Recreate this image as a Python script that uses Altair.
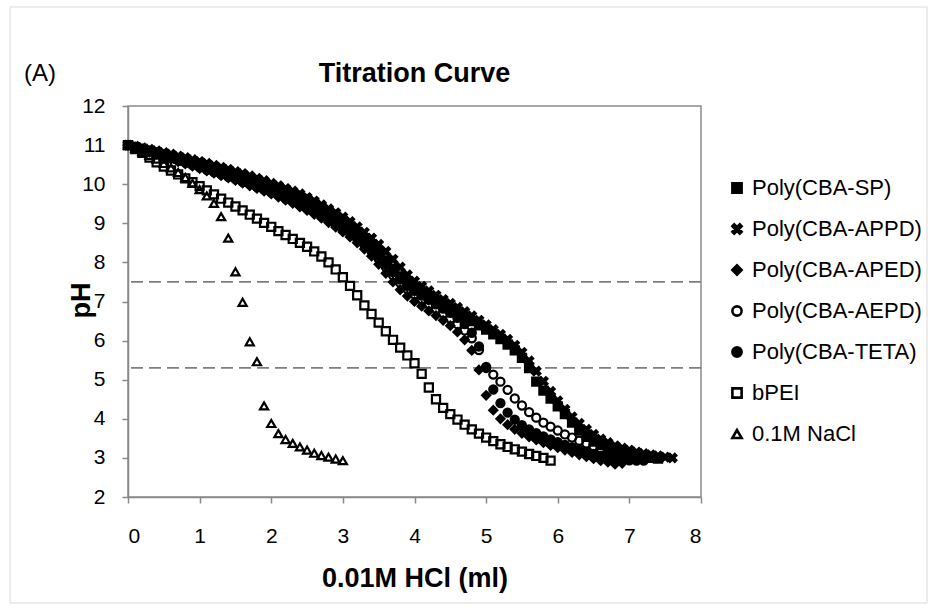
import altair as alt
import pandas as pd

# ---------------- data ----------------
volume_ml = [0.0, 0.1, 0.2, 0.3, 0.4, 0.5, 0.6, 0.7, 0.8, 0.9,
             1.0, 1.1, 1.2, 1.3, 1.4, 1.5, 1.6, 1.7, 1.8, 1.9,
             2.0, 2.1, 2.2, 2.3, 2.4, 2.5, 2.6, 2.7, 2.8, 2.9,
             3.0, 3.1, 3.2, 3.3, 3.4, 3.5, 3.6, 3.7, 3.8, 3.9,
             4.0, 4.1, 4.2, 4.3, 4.4, 4.5, 4.6, 4.7, 4.8, 4.9,
             5.0, 5.1, 5.2, 5.3, 5.4, 5.5, 5.6, 5.7, 5.8, 5.9,
             6.0, 6.1, 6.2, 6.3, 6.4, 6.5, 6.6, 6.7, 6.8, 6.9,
             7.0, 7.1, 7.2, 7.3, 7.4, 7.5, 7.6]

ph_sp = [11.0, 10.95, 10.9, 10.85, 10.8, 10.75, 10.7, 10.65, 10.6, 10.55,
         10.5, 10.45, 10.4, 10.34, 10.29, 10.23, 10.18, 10.12, 10.06, 10.0,
         9.94, 9.87, 9.8, 9.73, 9.65, 9.57, 9.48, 9.38, 9.28, 9.17,
         9.05, 8.92, 8.78, 8.62, 8.45, 8.26, 8.05, 7.84, 7.64, 7.47,
         7.33, 7.21, 7.1, 7.0, 6.9, 6.8, 6.7, 6.6, 6.5, 6.39,
         6.28, 6.16, 6.04, 5.9, 5.75, 5.56, 5.3, 4.95, 4.72, 4.52,
         4.32, 4.12, 3.9, 3.7, 3.54, 3.42, 3.33, 3.26, 3.2, 3.15,
         3.1, 3.06, 3.03, 3.0, 2.98]

ph_appd = [11.0, 10.97, 10.93, 10.89, 10.85, 10.81, 10.77, 10.72, 10.68, 10.63,
           10.58, 10.53, 10.48, 10.43, 10.38, 10.32, 10.27, 10.21, 10.15, 10.09,
           10.02, 9.96, 9.89, 9.82, 9.75, 9.66, 9.57, 9.47, 9.37, 9.27,
           9.16, 9.04, 8.91, 8.77, 8.62, 8.46, 8.28, 8.08, 7.88, 7.68,
           7.52, 7.39, 7.27, 7.16, 7.05, 6.95, 6.85, 6.74, 6.63, 6.52,
           6.4, 6.28, 6.16, 6.03, 5.88, 5.7, 5.48, 5.22, 4.96, 4.7,
           4.46, 4.24, 4.05, 3.88, 3.73, 3.6, 3.48, 3.39, 3.31, 3.25,
           3.2, 3.15, 3.11, 3.08, 3.05, 3.02, 3.0]

ph_aped = [11.0, 10.94, 10.88, 10.82, 10.76, 10.7, 10.64, 10.58, 10.52, 10.46,
           10.4, 10.34, 10.28, 10.22, 10.16, 10.1, 10.03, 9.96, 9.89, 9.82,
           9.75, 9.67, 9.59, 9.51, 9.42, 9.33, 9.23, 9.13, 9.02, 8.9,
           8.78, 8.65, 8.5, 8.34, 8.16, 7.95, 7.72, 7.5, 7.3, 7.14,
           7.0, 6.88, 6.76, 6.64, 6.52, 6.38, 6.22, 6.02, 5.75, 5.25,
           4.6, 4.22, 4.0, 3.85, 3.73, 3.63, 3.54, 3.46, 3.39, 3.32,
           3.26, 3.2, 3.14, 3.08, 3.03, 2.98, 2.93, 2.89, 2.84, 2.86]

ph_aepd = [11.0, 10.95, 10.89, 10.84, 10.78, 10.72, 10.67, 10.61, 10.55, 10.49,
           10.43, 10.37, 10.31, 10.25, 10.19, 10.13, 10.06, 10.0, 9.93, 9.86,
           9.79, 9.72, 9.64, 9.56, 9.48, 9.39, 9.3, 9.2, 9.1, 8.99,
           8.87, 8.74, 8.6, 8.45, 8.28, 8.09, 7.88, 7.67, 7.48, 7.32,
           7.18, 7.05, 6.93, 6.81, 6.69, 6.56, 6.42, 6.26, 6.06, 5.76,
           5.33, 5.13, 4.95, 4.74, 4.52, 4.34, 4.17, 4.03, 3.9, 3.8,
           3.7, 3.6, 3.52, 3.44, 3.37, 3.3, 3.24, 3.18, 3.13, 3.08,
           3.04, 3.0]

ph_teta = [11.0, 10.96, 10.91, 10.86, 10.81, 10.76, 10.71, 10.66, 10.61, 10.56,
           10.5, 10.44, 10.38, 10.32, 10.26, 10.2, 10.14, 10.07, 10.0, 9.93,
           9.86, 9.79, 9.71, 9.63, 9.55, 9.46, 9.37, 9.27, 9.17, 9.06,
           8.94, 8.81, 8.67, 8.52, 8.35, 8.16, 7.95, 7.75, 7.56, 7.4,
           7.27, 7.15, 7.04, 6.93, 6.82, 6.71, 6.58, 6.42, 6.2, 5.85,
           5.3, 4.75, 4.4, 4.16, 3.98, 3.84, 3.73, 3.63, 3.55, 3.47,
           3.4, 3.33, 3.27, 3.21, 3.15, 3.1, 3.05, 3.01, 2.97, 2.95,
           2.94, 2.93, 2.93]

ph_bpei = [11.0, 10.9, 10.8, 10.68, 10.56, 10.45, 10.35, 10.25, 10.15, 10.05,
           9.95, 9.84, 9.74, 9.63, 9.53, 9.43, 9.33, 9.22, 9.12, 9.01,
           8.91, 8.8, 8.7, 8.6, 8.5, 8.4, 8.28, 8.15, 8.0, 7.82,
           7.62, 7.4, 7.16, 6.9, 6.68, 6.46, 6.24, 6.02, 5.82, 5.62,
           5.42, 5.15, 4.8, 4.5, 4.28, 4.12, 3.98, 3.85, 3.73, 3.62,
           3.52, 3.43, 3.35, 3.28, 3.22, 3.16, 3.1, 3.05, 3.0, 2.93]

ph_nacl = [11.0, 10.92, 10.83, 10.74, 10.64, 10.53, 10.42, 10.3, 10.17, 10.02,
           9.86, 9.7, 9.51, 9.17, 8.62, 7.76, 6.98, 5.97, 5.46, 4.33,
           3.88, 3.62, 3.47, 3.37, 3.28, 3.2, 3.12, 3.06, 3.02, 2.97,
           2.93]

series_names = ["Poly(CBA-SP)", "Poly(CBA-APPD)", "Poly(CBA-APED)",
                "Poly(CBA-AEPD)", "Poly(CBA-TETA)", "bPEI", "0.1M NaCl"]
series_values = [ph_sp, ph_appd, ph_aped, ph_aepd, ph_teta, ph_bpei, ph_nacl]

reference_ph = [7.5, 5.3]
x_ticks = [0, 1, 2, 3, 4, 5, 6, 7, 8]
y_ticks = [2, 3, 4, 5, 6, 7, 8, 9, 10, 11, 12]
chart_title = "Titration Curve"
panel_label = "(A)"

rows = []
for k, (name, vals) in enumerate(zip(series_names, series_values)):
    for i, v in enumerate(vals):
        rows.append({"series": name, "ml": volume_ml[i], "pH": v, "k": k})
df = pd.DataFrame(rows)

# ---------------- styling ----------------
FONT = "Liberation Sans"
AXIS_GRAY = "#8a8a8a"
x_path = ("M-1,-0.6L-0.6,-1L0,-0.4L0.6,-1L1,-0.6L0.4,0L1,0.6L0.6,1"
          "L0,0.4L-0.6,1L-1,0.6L-0.4,0Z")
shapes = ["square", x_path, "diamond", "circle", "circle", "square", "triangle-up"]
fills = ["black", "black", "black", "transparent", "black", "transparent", "transparent"]
strokes = ["black"] * 7

x_scale = alt.Scale(domain=[0, 8], nice=False, zero=False)
y_scale = alt.Scale(domain=[2, 12], nice=False, zero=False)

y_axis = alt.Axis(values=y_ticks, title="pH", format="d",
                  labelPadding=17, labelOverlap=False,
                  titleX=-47, titleY=194,
                  titleBaseline="middle", titleAngle=-90)
x_axis = alt.Axis(values=x_ticks, title="0.01M HCl (ml)", format="d",
                  labelBaseline="middle", labelPadding=33,
                  labelOverlap=False,
                  titleX=286.5, titleY=81, titleBaseline="middle")

legend = alt.Legend(
    title=None, orient="none", legendX=598, legendY=71,
    labelFont=FONT, labelFontSize=22, labelColor="black", labelLimit=400,
    labelOffset=4, symbolSize=85, symbolStrokeWidth=2.6,
    rowPadding=19, padding=0,
)

points = alt.Chart(df).mark_point(
    filled=False, strokeWidth=2.2, size=66, opacity=1
).encode(
    x=alt.X("ml:Q", scale=x_scale, axis=x_axis),
    y=alt.Y("pH:Q", scale=y_scale, axis=y_axis),
    shape=alt.Shape("series:N", scale=alt.Scale(domain=series_names, range=shapes),
                    legend=legend),
    fill=alt.Fill("series:N", scale=alt.Scale(domain=series_names, range=fills),
                  legend=legend),
    stroke=alt.Stroke("series:N", scale=alt.Scale(domain=series_names, range=strokes),
                      legend=legend),
    order=alt.Order("k:Q"),
)

rules = alt.Chart(pd.DataFrame({"ref": reference_ph})).mark_rule(
    color="#7f7f7f", strokeWidth=1.8, strokeDash=[12, 6]
).encode(y=alt.Y("ref:Q", scale=y_scale, axis=y_axis))

frame = alt.Chart(pd.DataFrame({"f": [0]})).mark_rect(
    fill="transparent", stroke="#d9d9d9", strokeWidth=1
).encode(x=alt.value(-118), x2=alt.value(799), y=alt.value(-99), y2=alt.value(497))

label_a = alt.Chart(pd.DataFrame({"t": [panel_label]})).mark_text(
    font=FONT, fontSize=24, color="black", align="center", baseline="middle"
).encode(text="t:N", x=alt.value(-88), y=alt.value(-32))

title_text = alt.Chart(pd.DataFrame({"t": [chart_title]})).mark_text(
    font=FONT, fontSize=27, fontWeight="bold", color="black",
    align="center", baseline="middle"
).encode(text="t:N", x=alt.value(286.5), y=alt.value(-32))

chart = alt.layer(frame, rules, points, label_a, title_text).properties(
    width=573, height=391,
    padding={"left": 128, "top": 106, "right": 237, "bottom": 113},
    autosize=alt.AutoSizeParams(type="none"),
    background="white",
).configure_view(
    stroke=AXIS_GRAY, strokeWidth=1.5
).configure_axis(
    grid=False, domainColor=AXIS_GRAY, domainWidth=1.5, tickColor=AXIS_GRAY,
    tickWidth=1.5, tickSize=6, labelFont=FONT, labelFontSize=21,
    labelColor="black", titleFont=FONT, titleFontSize=27, titleFontWeight="bold",
    titleColor="black",
).configure_legend(
    symbolStrokeWidth=2.6
)

chart.save("out.html", embed_options={"renderer": "svg", "actions": False})
